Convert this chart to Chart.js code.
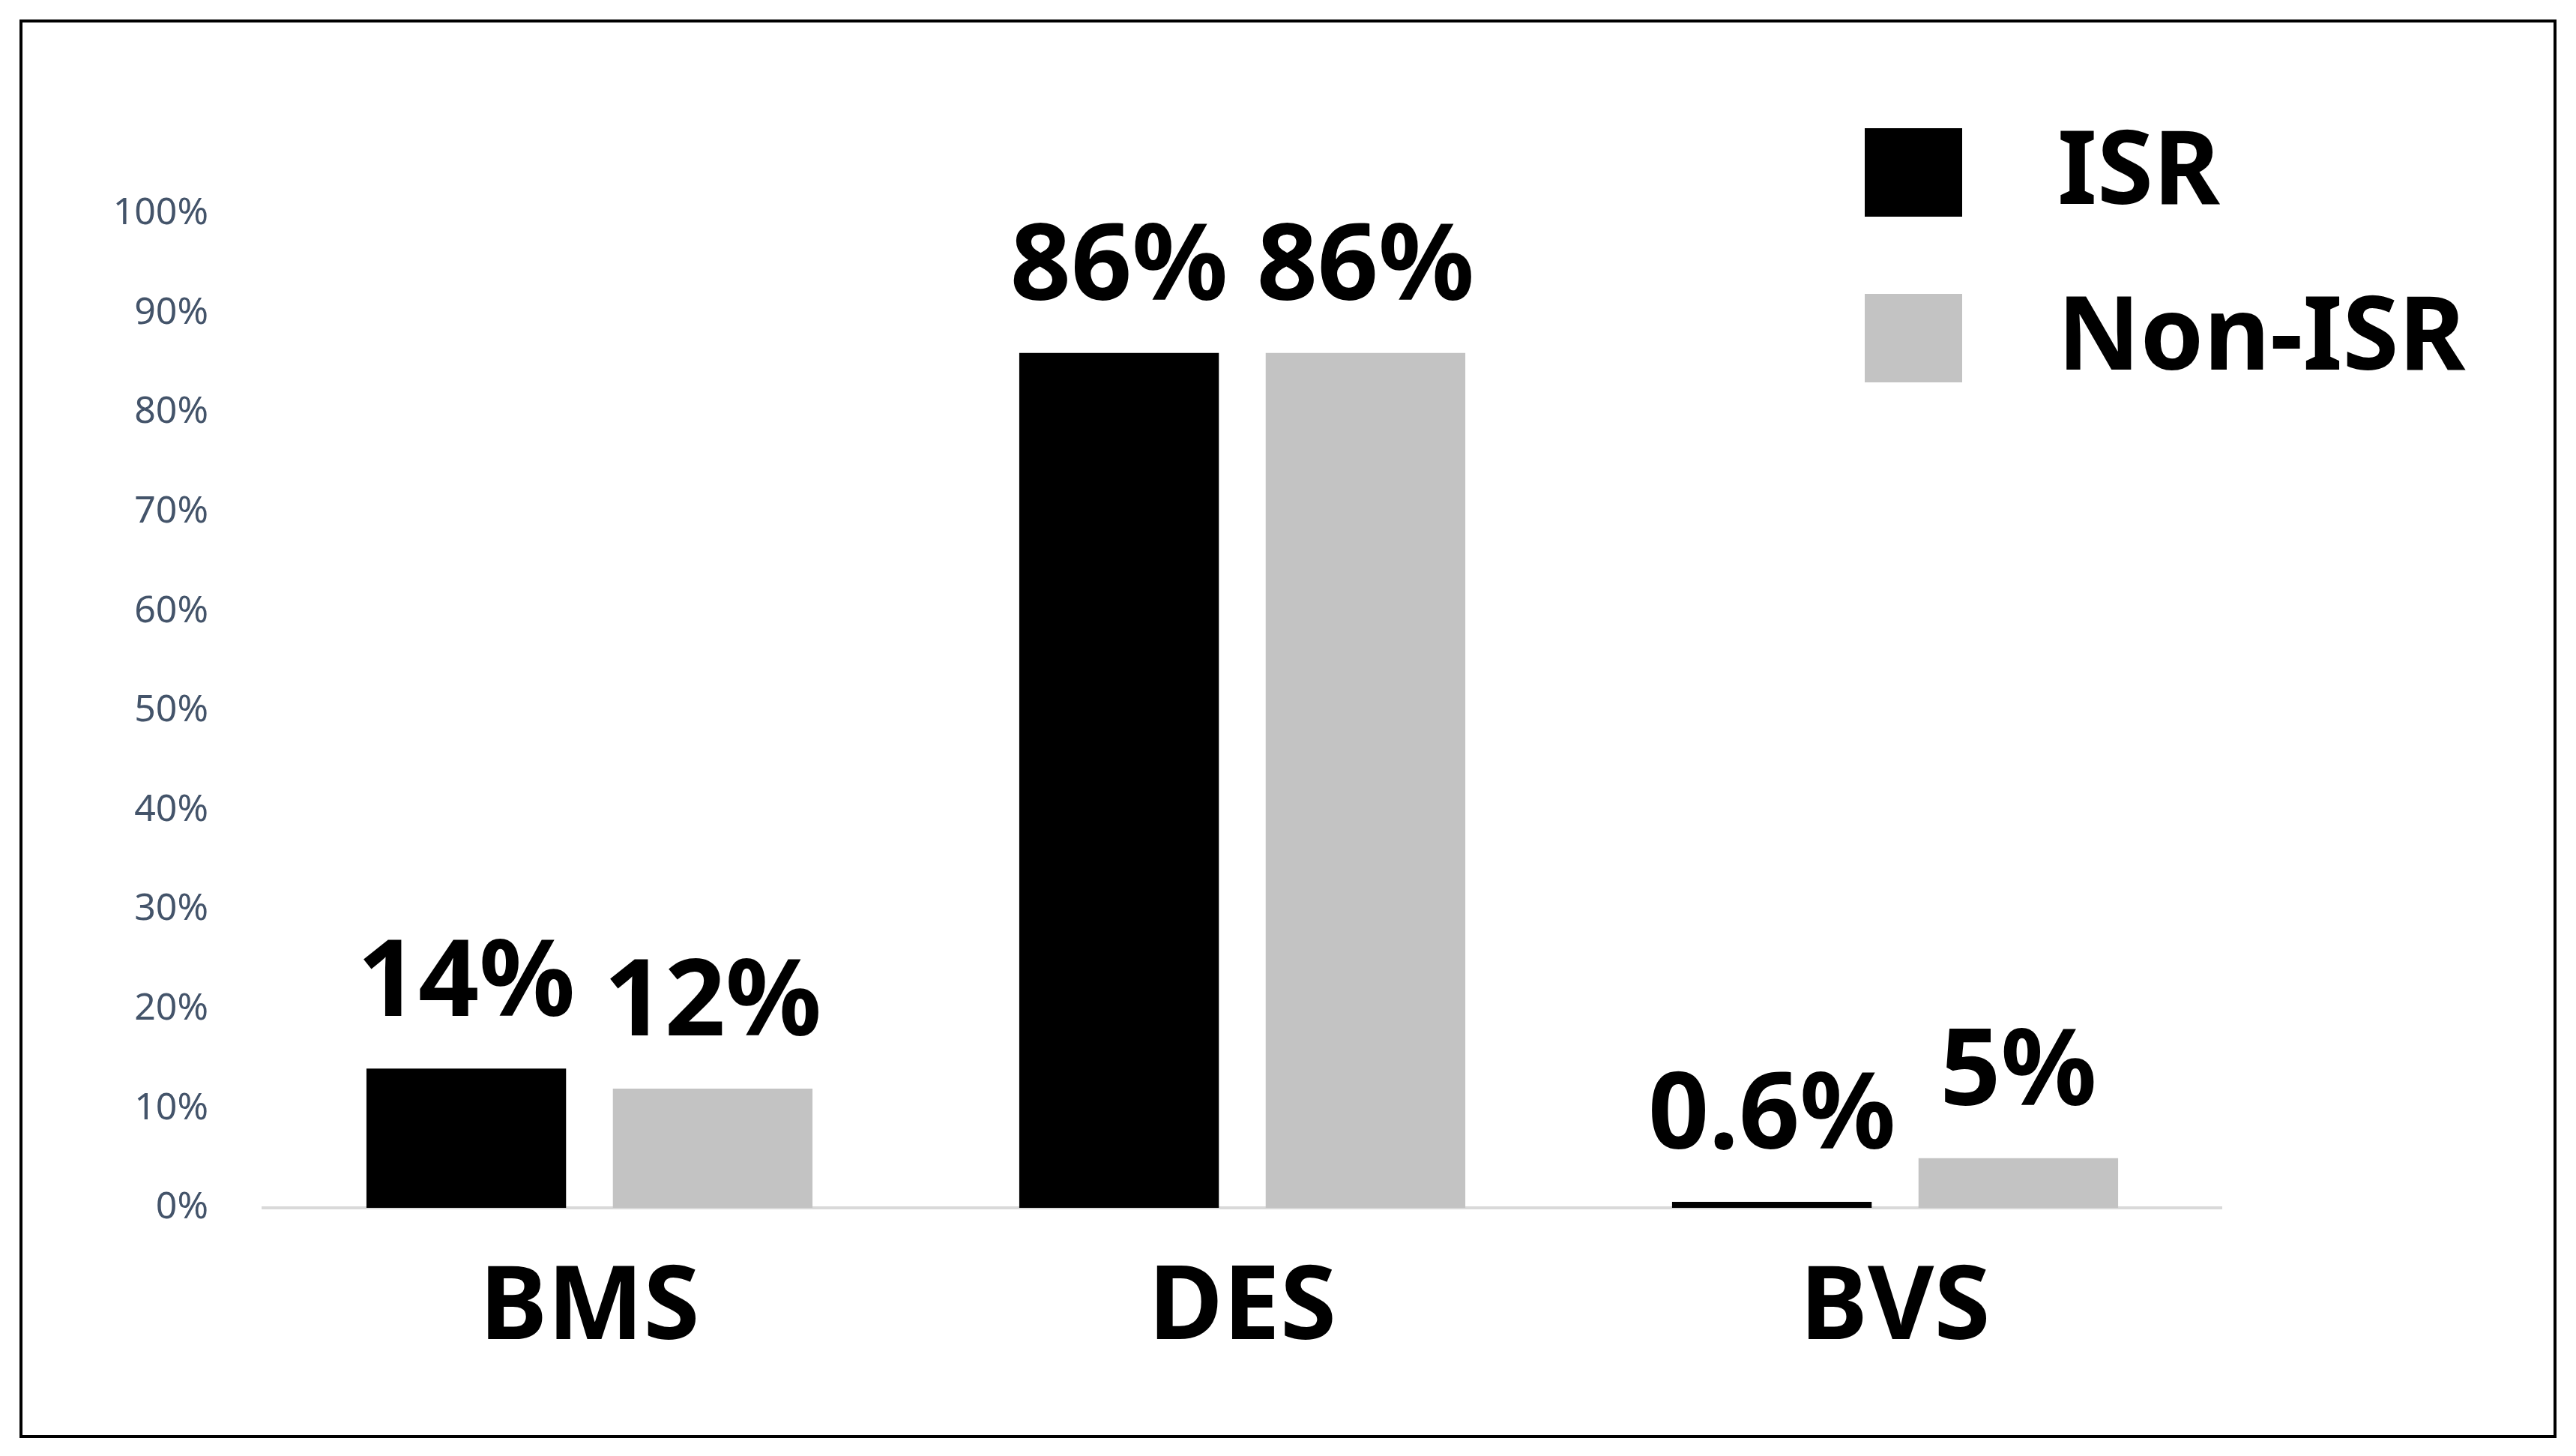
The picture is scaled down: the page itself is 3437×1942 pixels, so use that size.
<!DOCTYPE html>
<html>
<head>
<meta charset="utf-8">
<script src="https://cdn.jsdelivr.net/npm/chart.js@4"></script>
<style>
  html, body { margin: 0; padding: 0; background: #fff; }
  #wrap { width: 3437px; height: 1942px; }
</style>
</head>
<body>
<div id="wrap"><canvas id="chart"></canvas></div>
<script>
const categories = ['BMS', 'DES', 'BVS'];
const isrValues = [14, 86, 0.6];
const nonIsrValues = [12, 86, 5];
const isrLabels = ['14%', '86%', '0.6%'];
const nonIsrLabels = ['12%', '86%', '5%'];
const yTicks = [0, 10, 20, 30, 40, 50, 60, 70, 80, 90, 100];

const FONT = "'Noto Sans', 'Open Sans', sans-serif";

// frame, bar value labels and legend
const decor = {
    id: 'decor',
    afterDraw(chart) {
        const ctx = chart.ctx;
        ctx.save();
        ctx.strokeStyle = '#000';
        ctx.lineWidth = 4;
        ctx.strokeRect(28, 28, 3381, 1888);

        ctx.fillStyle = '#000';
        ctx.font = `bold 142px ${FONT}`;
        ctx.textAlign = 'center';
        ctx.textBaseline = 'bottom';
        const labelSets = [isrLabels, nonIsrLabels];
        chart.data.datasets.forEach((ds, i) => {
            chart.getDatasetMeta(i).data.forEach((bar, j) => {
                ctx.fillText(labelSets[i][j], bar.x, bar.y - 40);
            });
        });

        // legend
        ctx.textAlign = 'left';
        ctx.textBaseline = 'middle';
        ctx.font = `bold 136px ${FONT}`;
        chart.data.datasets.forEach((ds, i) => {
            const y = 171 + i * 221;
            ctx.fillStyle = ds.backgroundColor;
            ctx.fillRect(2488, y, 130, 118);
            ctx.fillStyle = '#000';
            ctx.fillText(ds.label, 2745, y + 62);
        });
        ctx.restore();
    }
};

new Chart(document.getElementById('chart'), {
    type: 'bar',
    data: {
        labels: categories,
        datasets: [
            { label: 'ISR', data: isrValues, backgroundColor: '#000000' },
            { label: 'Non-ISR', data: nonIsrValues, backgroundColor: '#c3c3c3' }
        ]
    },
    options: {
        responsive: true,
        maintainAspectRatio: false,
        animation: false,
        categoryPercentage: 0.755,
        barPercentage: 0.81,
        layout: { padding: { left: 0, top: 285, right: 473, bottom: 0 } },
        plugins: { legend: { display: false }, tooltip: { enabled: false } },
        scales: {
            y: {
                min: 0,
                max: 100,
                afterBuildTicks: axis => { axis.ticks = yTicks.map(v => ({ value: v })); },
                afterFit: axis => { axis.width = 351; },
                grid: { display: false, drawTicks: false },
                border: { display: false },
                ticks: {
                    padding: 73,
                    color: '#44546a',
                    font: { family: FONT, size: 50 },
                    callback: v => v + '%'
                }
            },
            x: {
                afterFit: axis => { axis.height = 331; },
                grid: { display: false, drawTicks: false },
                border: { display: true, color: '#d9d9d9', width: 4 },
                ticks: {
                    padding: 55,
                    color: '#000',
                    font: { family: FONT, size: 136, weight: 'bold' }
                }
            }
        }
    },
    plugins: [decor]
});
</script>
</body>
</html>
